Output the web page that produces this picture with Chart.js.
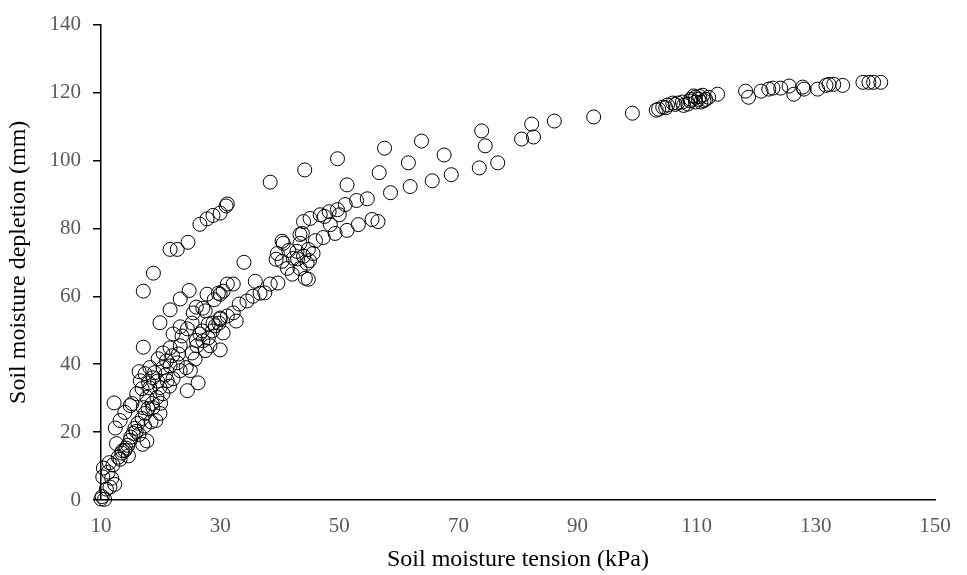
<!DOCTYPE html>
<html>
<head>
<meta charset="utf-8">
<script src="https://cdn.jsdelivr.net/npm/chart.js@4.4.1/dist/chart.umd.min.js"></script>
<style>
  html, body { margin: 0; padding: 0; background: #fff; }
</style>
</head>
<body>
<canvas id="grafico" width="967" height="575"></canvas>
<script>
// soil moisture tension (kPa) and the matching depletion (mm), same order
const tension = [
  10.0, 10.6, 10.2, 10.9, 11.5, 12.3, 10.3, 11.8, 10.4, 11.2,
  12.0, 11.4, 12.9, 13.5, 14.0, 14.5, 12.6, 14.9, 15.4, 12.4,
  15.7, 16.2, 13.2, 16.9, 14.0, 17.4, 12.2, 14.9, 17.9, 18.6,
  13.6, 14.2, 15.0, 15.9, 13.2, 14.6, 16.4, 17.3,
  17.0, 17.7, 19.2, 19.9, 18.4,
  15.2, 17.1, 18.7, 16.0, 17.7, 19.4, 20.4, 16.6, 19.9, 18.2,
  16.9, 18.7, 21.1, 17.4, 18.2, 19.6, 20.4, 21.6, 22.8, 20.4,
  21.6, 22.1, 23.3, 23.6, 24.5, 25.3, 25.5, 27.1, 28.0, 30.0,
  26.6, 24.5, 25.0, 26.3, 17.1, 19.9, 21.6, 23.3, 24.8, 18.8,
  17.1, 16.4, 19.0, 20.8, 22.0, 23.0, 21.0, 19.5, 18.0, 20.0,
  21.5,
  24.3, 25.3, 26.1, 27.1, 28.0, 28.7, 29.2, 28.3, 29.8, 30.5,
  27.0, 23.3, 22.1, 23.3, 30.0, 25.8, 27.5, 26.0,
  21.6, 22.8, 24.6, 26.6, 27.8, 28.8, 30.0, 31.0, 31.2,
  27.5, 27.8, 29.7, 31.2, 32.2, 28.8, 30.0, 31.2, 32.2, 33.2,
  34.5, 36.7, 35.9, 38.4, 39.7, 34.0, 30.0, 29.0, 30.5, 26.0,
  32.7, 35.5, 37.5,
  39.6, 40.4, 41.3, 43.4, 44.3, 42.1, 44.6, 42.3, 44.0, 42.9,
  45.6, 44.8, 43.4, 43.8, 46.0, 47.3, 49.3, 40.6, 39.4, 40.4,
  41.5, 43.0, 45.0, 44.0, 45.1, 46.8, 48.3, 51.0, 52.9, 54.7,
  53.2, 51.3, 55.5, 56.5, 48.5, 47.5, 50.0, 49.7, 43.4, 44.8,
  38.4, 44.2, 49.7, 51.3, 56.7, 57.6, 58.6, 61.6, 61.9, 63.8,
  65.6, 67.6, 68.8, 73.5, 73.9, 74.5, 76.6, 80.6, 82.3, 82.6,
  86.1, 92.7, 99.2,
  103.6, 104.3, 105.1, 106.0, 106.8, 107.6, 108.5, 109.0, 109.8, 110.3,
  111.0, 111.5, 112.0, 110.7, 109.8, 113.5, 103.2, 104.8, 106.4, 107.8,
  108.9, 109.5, 110.5, 111.2,
  118.2, 118.7, 120.8, 122.1, 122.8, 124.1, 125.5, 126.3, 127.8, 128.0,
  130.3, 131.7, 132.2, 133.0, 134.5, 137.9, 138.9, 139.7, 140.9
];

const depletion = [
  0.3, 0.2, 1.0, 3.2, 3.8, 4.6, 6.8, 6.4, 9.4, 8.2,
  10.3, 11.0, 12.6, 13.8, 14.6, 16.1, 16.6, 17.6, 19.6, 21.2,
  21.1, 22.6, 23.4, 24.0, 25.8, 25.5, 28.6, 27.8, 26.9, 28.4,
  14.5, 15.3, 18.5, 20.2, 12.0, 13.0, 19.3, 21.8,
  16.4, 17.4, 23.4, 25.5, 23.0,
  28.4, 27.2, 27.2, 31.3, 30.2, 30.2, 31.3, 35.1, 33.1, 33.0,
  32.8, 36.0, 35.1, 37.2, 39.0, 41.6, 39.0, 39.5, 40.4, 43.3,
  44.8, 48.9, 45.4, 48.3, 50.4, 52.1, 55.1, 56.5, 51.8, 53.6,
  48.9, 32.2, 38.1, 34.5, 45.0, 52.2, 56.0, 59.2, 61.7, 66.8,
  61.5, 37.8, 37.5, 36.8, 42.5, 43.0, 41.0, 35.0, 34.5, 28.5,
  33.5,
  39.0, 43.3, 45.4, 46.9, 47.7, 49.8, 51.3, 45.4, 52.1, 49.2,
  49.8, 38.1, 35.7, 51.0, 44.2, 41.5, 44.0, 47.0,
  73.8, 73.8, 75.9, 81.2, 82.8, 83.8, 84.5, 86.6, 87.2,
  55.7, 60.6, 60.9, 63.6, 63.6, 52.1, 53.3, 54.2, 55.1, 57.7,
  58.6, 60.9, 64.4, 63.6, 63.9, 70.0, 60.6, 59.0, 61.5, 56.8,
  52.7, 60.0, 61.0,
  72.6, 76.2, 68.2, 68.2, 65.3, 66.5, 69.7, 71.2, 71.8, 73.2,
  72.6, 73.8, 75.6, 78.5, 76.4, 77.3, 78.5, 75.6, 70.9, 70.3,
  73.5, 71.0, 70.5, 82.0, 82.9, 84.0, 84.9, 87.0, 88.2, 88.7,
  81.1, 79.4, 82.6, 82.0, 81.1, 83.5, 84.0, 85.5, 78.2, 65.0,
  93.6, 97.2, 100.5, 92.8, 96.4, 103.6, 90.5, 99.3, 92.3, 105.7,
  94.0, 101.6, 95.8, 97.8, 108.7, 104.3, 99.3, 106.3, 110.7, 106.9,
  111.6, 112.8, 113.9,
  115.1, 115.7, 116.3, 116.9, 116.9, 117.2, 116.6, 118.0, 118.6, 118.0,
  119.2, 118.0, 118.6, 117.2, 117.2, 119.5, 114.8, 115.5, 116.5, 116.2,
  117.5, 119.0, 118.8, 117.6,
  120.4, 118.6, 120.4, 121.0, 121.3, 121.3, 121.9, 119.5, 121.6, 121.0,
  121.0, 122.1, 122.4, 122.4, 122.1, 123.0, 123.0, 123.0, 123.0
];

const eixoX = { min: 10, max: 150, passo: 20 };
const eixoY = { min: 0, max: 140, passo: 20 };

const fonteSerif = '"Liberation Serif", "Times New Roman", serif';

const pontos = tension.map((t, i) => ({ x: t, y: depletion[i] }));

new Chart(document.getElementById("grafico"), {
  type: "scatter",
  data: {
    datasets: [{
      data: pontos,
      pointStyle: "circle",
      pointRadius: 7,
      pointBorderWidth: 1,
      pointBorderColor: "#000",
      pointBackgroundColor: "rgba(0,0,0,0)",
      clip: false
    }]
  },
  options: {
    responsive: false,
    animation: false,
    layout: { padding: { top: 20, right: 32, left: 0, bottom: 0 } },
    plugins: {
      legend: { display: false },
      tooltip: { enabled: false }
    },
    scales: {
      x: {
        type: "linear",
        min: eixoX.min,
        max: eixoX.max,
        ticks: {
          stepSize: eixoX.passo,
          color: "#595959",
          font: { family: fonteSerif, size: 21 },
          padding: 14
        },
        grid: { drawOnChartArea: false, drawTicks: false },
        border: { color: "#000", width: 1.5 },
        title: {
          display: true,
          text: "Soil moisture tension (kPa)",
          color: "#000",
          font: { family: fonteSerif, size: 24 },
          padding: { top: 4, bottom: 1 }
        },
        afterFit: s => { s.height = 75; }
      },
      y: {
        type: "linear",
        min: eixoY.min,
        max: eixoY.max,
        ticks: {
          stepSize: eixoY.passo,
          color: "#595959",
          font: { family: fonteSerif, size: 21 },
          padding: 12
        },
        grid: { drawOnChartArea: false, drawTicks: true, tickLength: 8, color: "#000", lineWidth: 1.5 },
        border: { color: "#000", width: 1.5 },
        title: {
          display: true,
          text: "Soil moisture depletion (mm)",
          color: "#000",
          font: { family: fonteSerif, size: 24 },
          padding: { top: 4, bottom: 4 }
        },
        afterFit: s => { s.width = 101; }
      }
    }
  }
});
</script>
</body>
</html>
